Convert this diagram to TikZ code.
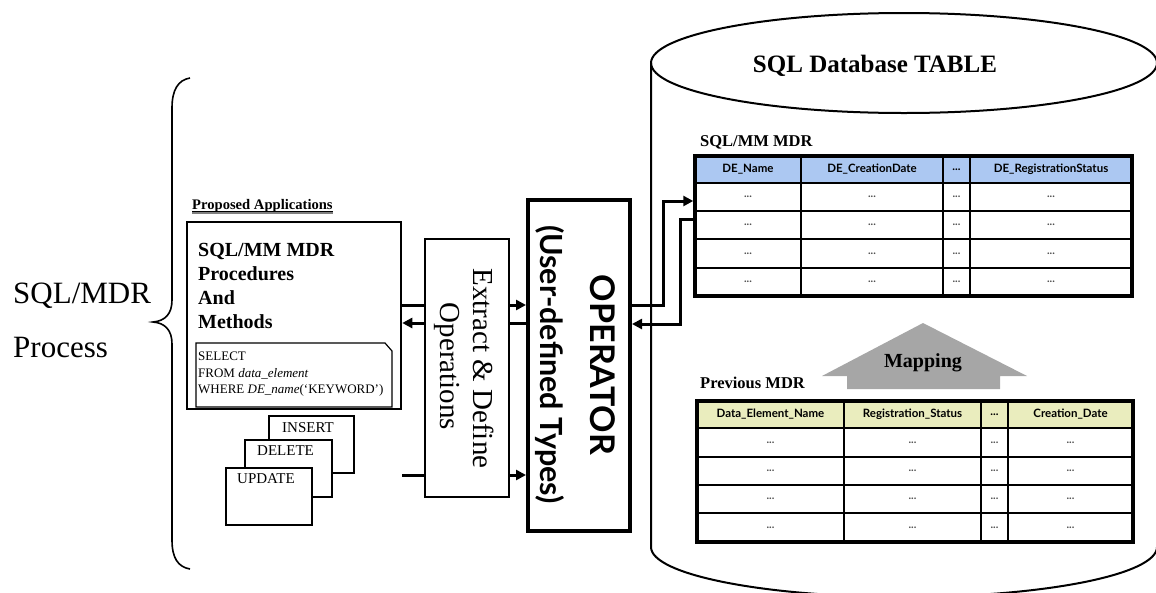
\documentclass[tikz,border=0pt]{standalone}
\usepackage{fontspec}
\setmainfont{Liberation Serif}
\newfontfamily\sansf{Lato}
\usetikzlibrary{arrows.meta,calc}
\definecolor{hdrblue}{RGB}{172,200,242}
\definecolor{hdryel}{RGB}{234,237,190}
\definecolor{mapgray}{RGB}{166,166,166}
\definecolor{dotgray}{RGB}{80,80,80}
\newcommand{\fs}[1]{\fontsize{#1}{#1}\selectfont}
\begin{document}
\begin{tikzpicture}[x=1pt,y=-1pt,
  box/.style={draw, line width=2.2pt, fill=white, inner sep=0pt},
  txt/.style={inner sep=0pt, anchor=base west},
  conn/.style={line width=3pt},
  arr/.style={line width=3pt, -{Triangle[length=10pt,width=10pt]}},
  hdr/.style={inner sep=0pt, font=\sansf\bfseries\fs{11.5}},
  cell/.style={inner sep=0pt, font=\sansf\bfseries\fs{11}, text=dotgray},
  tline/.style={line width=1.6pt},
  tframe/.style={draw, line width=3.5pt, inner sep=0pt}]
\useasboundingbox (0,0) rectangle (1156,592);
\clip (0,0) rectangle (1156,592);

% ---------- left label and brace ----------
\node[txt, font=\fs{31}] (lab1) at (13,303) {SQL/MDR};
\node[txt, font=\fs{31}] (lab2) at (13,357) {Process};
\draw[line width=1.6pt] (190,78) .. controls (178,80) and (172,90) .. (172,108)
  -- (172,300) .. controls (172,314) and (165,321) .. (153,322)
  .. controls (165,323) and (172,330) .. (172,344)
  -- (172,540) .. controls (172,558) and (178,567) .. (190,569);

% ---------- proposed applications ----------
\node[txt, font=\bfseries\fs{14.6}] (plabel) at (192,209) {Proposed Applications};
\draw[line width=1.2pt, gray] ($(plabel.base west)+(0,4)$) -- ($(plabel.base east)+(0,4)$);
\draw[line width=0.8pt] ($(plabel.base west)+(0,2.5)$) -- ($(plabel.base east)+(0,2.5)$);
\node[box, line width=2.5pt, minimum width=214pt, minimum height=187pt] (prop) at (294,315.5) {};
\node[txt, font=\bfseries\fs{20}] (p1) at (198,256) {SQL/MM MDR};
\node[txt, font=\bfseries\fs{20}] (p2) at (198,280) {Procedures};
\node[txt, font=\bfseries\fs{20}] (p3) at (198,304) {And};
\node[txt, font=\bfseries\fs{20}] (p4) at (198,328) {Methods};
\draw[line width=1.2pt] (196,343) -- (385,343) -- (392,351) -- (392,407) -- (196,407) -- cycle;
\node[txt, font=\fs{13}] (q1) at (198,360) {SELECT};
\node[txt, font=\fs{13}] (q2) at (198,377) {FROM \textit{data\_element}};
\node[txt, font=\fs{13}] (q3) at (198,393) {WHERE \textit{DE\_name}(`KEYWORD')};

% ---------- insert / delete / update ----------
\node[box, line width=2pt, minimum width=85pt, minimum height=57pt] (ins) at (311.5,444.5) {};
\node[txt, font=\fs{15}] (inst) at (282,432) {INSERT};
\node[box, line width=2pt, minimum width=87pt, minimum height=57pt] (del) at (288.5,468.5) {};
\node[txt, font=\fs{15}] (delt) at (257,455) {DELETE};
\node[box, line width=2pt, minimum width=86pt, minimum height=57pt] (upd) at (269,496.5) {};
\node[txt, font=\fs{15}] (updt) at (237,483) {UPDATE};

% ---------- extract & define ----------
\node[box, line width=2pt, minimum width=84pt, minimum height=258pt] (ext) at (467,368) {};
\node[inner sep=0pt, rotate=-90, font=\fs{29}] (ext1) at (484,368.5) {Extract \& Define};
\node[inner sep=0pt, rotate=-90, font=\fs{29}] (ext2) at (447,366.5) {Operations};

% ---------- operator ----------
\node[box, line width=4pt, minimum width=102pt, minimum height=331pt] (op) at (579,365.5) {};
\node[inner sep=0pt, rotate=-90, font=\sansf\bfseries\fs{34}] (op1) at (603,365) {OPERATOR};
\node[inner sep=0pt, rotate=-90, font=\sansf\bfseries\fs{30.5}] (op2) at (550,364.5) {(User-defined Types)};

% ---------- connectors left ----------
\coordinate (y305) at (0,305);
\coordinate (y323) at (0,323);
\coordinate (y475) at (0,475);
\coordinate (stub) at (402,475);
\draw[conn] (prop.east |- y305) -- (ext.west |- y305);
\draw[arr] (ext.east |- y305) -- (op.west |- y305);
\draw[conn] (op.west |- y323) -- (ext.east |- y323);
\draw[arr] (ext.west |- y323) -- (prop.east |- y323);
\draw[conn] (stub) -- (ext.west |- y475);
\draw[arr] (ext.east |- y475) -- (op.west |- y475);

% ---------- cylinder ----------
\draw[line width=2pt] (904,63) ellipse [x radius=253pt, y radius=50pt];
\draw[line width=2pt] (651,63) -- (651,547) arc[start angle=180, end angle=360, x radius=253pt, y radius=50pt] -- (1157,63);
\node[font=\bfseries\fs{25}, inner sep=0pt, anchor=base] (dbt) at (875,72) {SQL Database TABLE};

% ---------- table A ----------
\node[txt, font=\bfseries\fs{16.5}] (alabel) at (700,146) {SQL/MM MDR};
\fill[hdrblue] (695,156) rectangle (1132,183);
\foreach \yy in {211,239,268} \draw[tline] (695,\yy) -- (1132,\yy);
\draw[line width=2.6pt] (695,183) -- (1132,183);
\foreach \xx in {801,943,970} \draw[line width=2pt] (\xx,156) -- (\xx,296);
\node[tframe, minimum width=437pt, minimum height=140pt] (tblA) at (913.5,226) {};
\node[hdr] (ah1) at (748,169.5) {DE\_Name};
\node[hdr] (ah2) at (872,169.5) {DE\_CreationDate};
\node[hdr] (ah3) at (956.5,169.5) {...};
\node[hdr] (ah4) at (1051,169.5) {DE\_RegistrationStatus};
\foreach \yy [count=\r] in {197,225,253.5,282}
  \foreach \xx [count=\c] in {748,872,956.5,1051}
    \node[cell] (a\r\c) at (\xx,\yy) {...};

% ---------- mapping ----------
\fill[mapgray] (923,323) -- (1027,376) -- (1000,376) -- (1000,389) -- (847,389) -- (847,376) -- (822,376) -- cycle;
\node[font=\bfseries\fs{20}, inner sep=0pt, anchor=base] (map) at (923,367) {Mapping};

% ---------- table B ----------
\node[txt, font=\bfseries\fs{16.5}] (blabel) at (700,388) {Previous MDR};
\fill[hdryel] (697,401) rectangle (1133,428);
\foreach \yy in {457,485,513} \draw[tline] (697,\yy) -- (1133,\yy);
\draw[line width=2.6pt] (697,428) -- (1133,428);
\foreach \xx in {844,981,1008} \draw[line width=2pt] (\xx,401) -- (\xx,542);
\node[tframe, minimum width=436pt, minimum height=141pt] (tblB) at (915,471.5) {};
\node[hdr] (bh1) at (770.5,414.5) {Data\_Element\_Name};
\node[hdr] (bh2) at (912.5,414.5) {Registration\_Status};
\node[hdr] (bh3) at (994.5,414.5) {...};
\node[hdr] (bh4) at (1070.5,414.5) {Creation\_Date};
\foreach \yy [count=\r] in {442.5,471,499,527.5}
  \foreach \xx [count=\c] in {770.5,912.5,994.5,1070.5}
    \node[cell] (b\r\c) at (\xx,\yy) {...};

% ---------- connectors right ----------
\coordinate (y201) at (0,201);
\coordinate (y219) at (0,219);
\coordinate (y324) at (0,324);
\draw[arr] (op.east |- y305) -- (663,305) -- (663,201) -- (tblA.west |- y201);
\draw[arr] (tblA.west |- y219) -- (680,219) -- (680,324) -- (op.east |- y324);
\end{tikzpicture}
\end{document}
